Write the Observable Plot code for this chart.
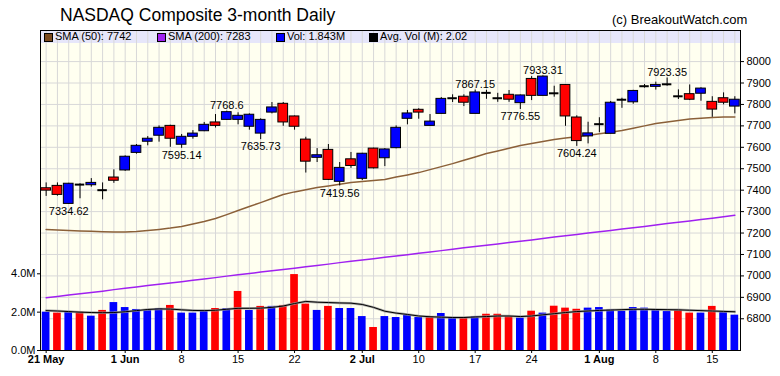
<!DOCTYPE html>
<html><head><meta charset="utf-8">
<script src="https://cdn.jsdelivr.net/npm/d3@7"></script>
<script src="https://cdn.jsdelivr.net/npm/@observablehq/plot@0.6"></script>
<style>
body{margin:0;background:#fff;font-family:"Liberation Sans",Arial,sans-serif;}
#wrap{position:relative;width:780px;height:376px;overflow:hidden;background:#fff;}
#wrap svg{position:absolute;left:0;top:0;}
#bg{position:absolute;left:40px;top:30px;width:700px;height:320px;background:#FFFFF0;}
#strip{position:absolute;left:40px;top:30px;width:700px;height:13px;background:#E6E6FA;}
#title{position:absolute;left:60px;top:5px;font-size:17.5px;color:#000;white-space:nowrap;}
#copy{position:absolute;left:612px;top:12px;font-size:13px;color:#000;white-space:nowrap;}
#legend{position:absolute;left:0;top:30px;height:13px;width:780px;font-size:11px;line-height:13px;}
#legend .sw{position:absolute;top:3px;width:7px;height:7px;border:1px solid #000;}
#legend .tx{position:absolute;top:0;white-space:nowrap;}
</style></head>
<body><div id="wrap">
<div id="bg"></div><div id="strip"></div>
<div id="title"></div><div id="copy"></div>
<div id="price"></div><div id="vol"></div>
<div id="legend"></div>
</div>
<script>
const titleText = "NASDAQ Composite 3-month Daily";
const copyText = "(c) BreakoutWatch.com";

const dates = ["2018-05-21","2018-05-22","2018-05-23","2018-05-24","2018-05-25","2018-05-29","2018-05-31",
"2018-06-01","2018-06-04","2018-06-05","2018-06-06","2018-06-07","2018-06-08","2018-06-11","2018-06-12","2018-06-13",
"2018-06-14","2018-06-15","2018-06-18","2018-06-19","2018-06-20","2018-06-21","2018-06-22","2018-06-25","2018-06-26",
"2018-06-27","2018-06-28","2018-06-29","2018-07-02","2018-07-03","2018-07-05","2018-07-06","2018-07-09","2018-07-10",
"2018-07-11","2018-07-12","2018-07-13","2018-07-16","2018-07-17","2018-07-18","2018-07-19","2018-07-20","2018-07-23",
"2018-07-24","2018-07-25","2018-07-26","2018-07-27","2018-07-30","2018-07-31","2018-08-01","2018-08-02","2018-08-03",
"2018-08-06","2018-08-07","2018-08-08","2018-08-09","2018-08-10","2018-08-13","2018-08-14","2018-08-15","2018-08-16","2018-08-17"];

const open = [7409,7420,7336,7426,7423,7400,7459,7492,7574,7626,7654,7700,7612,7649,7675,7716,7728,7728,7696,7664,
7762,7803,7744,7636,7551,7588,7439,7544,7453,7594,7549,7596,7733,7775,7700,7756,7829,7836,7756,7854,
7829,7845,7806,7919,7840,7852,7891,7739,7651,7708,7663,7822,7810,7885,7882,7894,7838,7848,7850,7812,7829,7790];
const high = [7434,7434,7432,7430,7454,7434,7495,7560,7613,7650,7700,7703,7660,7678,7716,7753,7768.6,7761,7756,7733,
7809,7809,7746,7647,7594,7613,7529,7576,7572,7596,7594,7700,7772,7780,7753,7832,7845,7845,7867.15,7866,
7852,7865,7844,7930,7933.31,7885,7893,7747,7717,7738,7814,7829,7866,7893,7904,7923.35,7868,7891,7878,7836,7854,7836];
const low = [7371,7372,7334.62,7360,7414,7355,7432,7488,7568,7607,7624,7600,7595.14,7638,7673,7690,7726,7705,7680,7635.73,
7756,7698,7680,7480,7529,7445,7419.56,7502,7445,7499,7510,7593,7705,7731,7700,7756,7809,7790,7756,7824,
7810,7810,7776.55,7818,7840,7834,7698,7604.24,7616,7668,7663,7782,7801,7876,7867,7885,7823,7818,7815,7740,7798,7756];
const close = [7398,7378,7430,7426,7434,7400,7444,7556,7607,7640,7691,7640,7649,7664,7705,7700,7764,7747,7752,7728,
7786,7716,7696,7533,7563,7448,7504,7513,7570,7502,7590,7691,7758,7762,7720,7826,7829,7808,7856,7854,
7829,7822,7842,7840,7930,7852,7744,7629,7665,7708,7808,7822,7863,7885,7891,7894,7838,7822,7874,7776,7808,7822];
// volume in millions
const volume = [2.00,1.95,2.00,2.00,1.79,2.09,2.50,2.24,2.14,2.09,2.19,2.35,1.95,1.95,2.05,2.19,2.19,3.08,2.09,2.30,
2.30,2.35,3.96,2.42,2.09,2.30,2.19,2.19,1.77,1.20,1.77,1.72,1.84,1.72,1.77,1.93,1.72,1.72,1.77,1.89,
1.89,1.77,1.69,2.05,1.95,2.31,2.21,2.15,2.21,2.24,2.12,2.05,2.24,2.21,2.10,2.03,2.10,1.95,1.95,2.30,1.98,1.843];
const sma50 = [7217,7214,7212,7210,7208,7206,7205,7205,7207,7212,7217,7223,7231,7242,7254,7268,7286,7305,7324,7342,
7361,7380,7392,7402,7412,7420,7428,7436,7441,7445,7450,7461,7471,7482,7496,7510,7524,7540,7555,7571,
7583,7596,7608,7618,7627,7636,7643,7649,7655,7663,7670,7678,7689,7700,7711,7718,7725,7732,7736,7739,7741,7742];
const sma200 = [6898,6904,6911,6917,6923,6929,6936,6942,6948,6955,6961,6967,6973,6980,6986,6992,6999,7005,7011,7018,
7024,7030,7036,7043,7049,7055,7062,7068,7074,7080,7087,7093,7099,7106,7112,7118,7124,7131,7137,7143,
7149,7156,7162,7168,7175,7181,7187,7193,7200,7206,7212,7219,7225,7231,7237,7244,7250,7256,7263,7269,7276,7283];
const avgVol = [2.08,2.06,2.03,2.00,1.98,1.97,1.98,2.02,2.08,2.14,2.17,2.16,2.12,2.09,2.08,2.10,2.15,2.20,2.20,2.21,
2.25,2.32,2.45,2.56,2.52,2.50,2.48,2.47,2.40,2.25,2.05,1.95,1.88,1.80,1.76,1.74,1.72,1.72,1.75,1.77,
1.80,1.80,1.77,1.80,1.86,1.92,1.98,2.03,2.06,2.09,2.11,2.13,2.15,2.15,2.14,2.13,2.12,2.10,2.08,2.06,2.04,2.02];

const priceTicks = [6800,6900,7000,7100,7200,7300,7400,7500,7600,7700,7800,7900,8000];
const volTicks = [0,2,4];
const tickDates = ["2018-05-21","2018-06-01","2018-06-08","2018-06-15","2018-06-22","2018-07-02","2018-07-10",
"2018-07-17","2018-07-24","2018-08-01","2018-08-08","2018-08-15"];
const tickLabels = ["21 May","1 Jun","8","15","22","2 Jul","10","17","24","1 Aug","8","15"];
const labelDates = ["2018-05-23","2018-06-08","2018-06-14","2018-06-19","2018-06-28","2018-07-17","2018-07-23","2018-07-25","2018-07-30","2018-08-09"];
const labelKinds = ["low","low","high","low","low","high","low","high","low","high"];

const legendNames = ["SMA (50): 7742","SMA (200): 7283","Vol: 1.843M","Avg. Vol (M): 2.02"];
const legendColors = ["#7B4A1E","#A020F0","#0000FF","#000000"];

// ---------- layout ----------
const W = 780, H = 376, mL = 40, mR = 40, mT = 30, mB = 26;
const FONT = "Liberation Sans, Arial, sans-serif";
const BLUE = "#0000FF", RED = "#FF0000";
const n = dates.length;
const idx = d3.range(n);
const xDomain = [-0.5, n - 0.5];
const pos = new Map(dates.map((d, i) => [d, i]));

document.getElementById("title").textContent = titleText;
document.getElementById("copy").textContent = copyText;

const candles = idx.map(i => ({i, o: open[i], h: high[i], l: low[i], c: close[i]}));
const bodies = candles.filter(d => d.o !== d.c);
const dojis = candles.filter(d => d.o === d.c);
const labels = labelDates.map((d, k) => {
  const i = pos.get(d);
  return {i, kind: labelKinds[k], v: labelKinds[k] === "low" ? low[i] : high[i]};
});
const tickIdx = tickDates.map(d => pos.get(d));
const boldTicks = tickIdx.filter((t, k) => tickLabels[k].includes(" "));
const plainTicks = tickIdx.filter((t, k) => !tickLabels[k].includes(" "));
const tickFmt = t => tickLabels[tickIdx.indexOf(t)];

const style = {background: "transparent", fontFamily: FONT, fontSize: "11px", color: "#000", overflow: "visible"};

const pricePlot = Plot.plot({
  width: W, height: H, marginLeft: mL, marginRight: mR, marginTop: mT, marginBottom: mB,
  style,
  x: {domain: xDomain},
  y: {domain: [6652, 8145]},
  marks: [
    Plot.ruleX(idx, {x: d => d, stroke: "#D8D8D8", strokeWidth: 1}),
    Plot.ruleY(priceTicks, {y: d => d, stroke: "#D8D8D8", strokeWidth: 1}),
    Plot.line(idx, {x: d => d, y: d => sma200[d], stroke: "#A020F0", strokeWidth: 1.5}),
    Plot.line(idx, {x: d => d, y: d => sma50[d], stroke: "#8B6038", strokeWidth: 1.5}),
    Plot.ruleX(candles, {x: "i", y1: "l", y2: "h", stroke: "#000", strokeWidth: 1}),
    Plot.rect(bodies, {x1: d => d.i - 0.43, x2: d => d.i + 0.43, y1: "o", y2: "c",
      fill: d => d.c > d.o ? BLUE : RED, stroke: "#000", strokeWidth: 1}),
    Plot.ruleY(dojis, {y: "c", x1: d => d.i - 0.42, x2: d => d.i + 0.42, stroke: "#000", strokeWidth: 2}),
    Plot.text(labels.filter(d => d.kind === "low"), {x: "i", y: "v", text: d => String(d.v),
      lineAnchor: "top", dy: 3, fontSize: 11, fill: "#000"}),
    Plot.text(labels.filter(d => d.kind === "high"), {x: "i", y: "v", text: d => String(d.v),
      lineAnchor: "bottom", dy: -2, fontSize: 11, fill: "#000"}),
    Plot.axisY({anchor: "right", ticks: priceTicks, tickFormat: d => String(d), tickSize: 3, tickPadding: 3, label: null, fontSize: 11}),
    Plot.axisX({ticks: boldTicks, tickFormat: tickFmt, tickSize: 3, tickPadding: 2, label: null, fontWeight: "bold", fontSize: 11}),
    Plot.axisX({ticks: plainTicks, tickFormat: tickFmt, tickSize: 3, tickPadding: 2, label: null, fontSize: 11}),
    Plot.frame({stroke: "#000", strokeWidth: 1})
  ]
});
document.getElementById("price").appendChild(pricePlot);

const volData = idx.map(i => ({i, v: volume[i], up: i === 0 || close[i] >= close[i - 1]}));
const volPlot = Plot.plot({
  width: W, height: H, marginLeft: mL, marginRight: mR, marginTop: mT, marginBottom: mB,
  style,
  x: {domain: xDomain, axis: null},
  y: {domain: [0, 16.69]},
  marks: [
    Plot.rect(volData, {x1: d => d.i - 0.34, x2: d => d.i + 0.34, y1: 0, y2: "v", fill: d => d.up ? BLUE : RED}),
    Plot.line(idx, {x: d => d, y: d => avgVol[d], stroke: "#999", strokeWidth: 2.5, strokeOpacity: 0.8}),
    Plot.line(idx, {x: d => d, y: d => avgVol[d], stroke: "#000", strokeWidth: 1}),
    Plot.axisY({anchor: "left", ticks: volTicks, tickFormat: d => d.toFixed(1) + "M", tickSize: 3, tickPadding: 2, label: null, fontSize: 11})
  ]
});
document.getElementById("vol").appendChild(volPlot);

// legend
const lg = document.getElementById("legend");
const swLeft = [44, 157, 276, 369];
legendNames.forEach((name, k) => {
  const sw = document.createElement("div");
  sw.className = "sw"; sw.style.left = swLeft[k] + "px"; sw.style.background = legendColors[k];
  const tx = document.createElement("div");
  tx.className = "tx"; tx.style.left = (swLeft[k] + 11) + "px"; tx.textContent = name;
  lg.appendChild(sw); lg.appendChild(tx);
});
</script>
</body></html>
